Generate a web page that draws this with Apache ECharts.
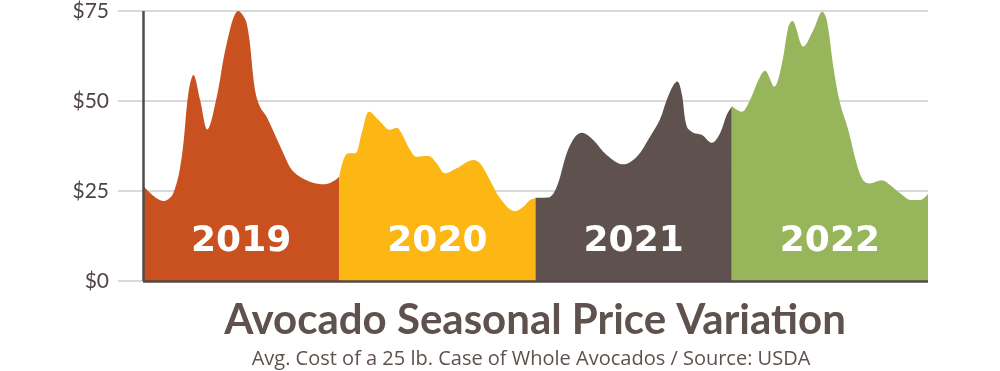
<!DOCTYPE html>
<html>
<head>
<meta charset="utf-8">
<script src="https://cdn.jsdelivr.net/npm/echarts@6/dist/echarts.min.js"></script>
<style>
html,body{margin:0;padding:0;background:#fff;}
#chart{width:1000px;height:371px;}
</style>
</head>
<body>
<div id="chart"></div>
<script>
// Months since Jan 2019 (x) and price in $ (y)
const years = ['2019', '2020', '2021', '2022'];
const colors = ['#C8511F', '#FDB714', '#5E514E', '#97B55A'];
const yTicks = [0, 25, 50, 75];

const x2019 = [0, 1.24, 1.85, 2.37, 2.77, 3.08, 3.49, 3.93, 4.51, 5.12, 5.83, 6.34, 6.85, 7.15, 7.56, 8.58, 9.19, 10.21, 11.13, 11.74, 12];
const y2019 = [26.5, 22.2, 24.4, 34.5, 52, 57.2, 50.3, 42.1, 51.2, 66, 75, 71.6, 53, 48.4, 45.6, 35.5, 30.4, 27.6, 26.9, 28, 29];

const x2020 = [12, 12.25, 12.55, 12.96, 13.37, 13.84, 14.49, 15.1, 15.51, 15.82, 16.33, 16.74, 17.45, 17.96, 18.47, 19.18, 20.2, 20.61, 21.22, 21.83, 22.75, 23.25, 23.66, 24];
const y2020 = [29, 33.6, 35.5, 35.5, 41, 47, 44.3, 42, 42.6, 41, 36.4, 34.5, 34.7, 32.7, 29.9, 31.3, 33.6, 32.7, 28, 23, 19.4, 20.6, 22.5, 23];

const x2021 = [24, 24.78, 25.3, 25.91, 26.42, 26.83, 27.53, 28.35, 29.37, 30.19, 31, 31.62, 32.02, 32.43, 32.67, 32.94, 33.25, 33.65, 34.16, 34.77, 35.28, 35.69, 36];
const y2021 = [23.1, 23.2, 26.2, 35.5, 40.1, 41.2, 39.2, 35, 32.4, 34.5, 40.1, 45, 50.3, 54.4, 55.4, 52.1, 42.9, 41.2, 40.6, 38.4, 41, 46.1, 48.4];

const x2022 = [36, 36.6, 37.12, 37.63, 38.03, 38.6, 39.06, 39.46, 39.7, 40.38, 40.99, 41.54, 41.81, 42.21, 42.62, 43.13, 43.63, 44.03, 44.44, 45.17, 45.68, 46.29, 47, 47.51, 48];
const y2022 = [48.6, 47, 50.3, 55.8, 58.4, 54, 60.2, 70.6, 72.2, 65.1, 69.7, 74.8, 72.5, 59.5, 49.4, 41.9, 32.7, 28, 27.1, 28, 26.7, 24.4, 22.5, 22.5, 24.2];

const xs = [x2019, x2020, x2021, x2022];
const ys = [y2019, y2020, y2021, y2022];
const labelY = 10.8;

const chart = echarts.init(document.getElementById('chart'), null, {renderer: 'canvas'});

const series = years.map((yr, i) => ({
  type: 'line',
  name: yr,
  data: xs[i].map((x, k) => [x, ys[i][k]]),
  smooth: 0.35,
  showSymbol: false,
  symbol: 'none',
  lineStyle: {width: 0, color: colors[i]},
  itemStyle: {color: colors[i]},
  areaStyle: {color: colors[i], opacity: 1, origin: 'start'},
  silent: true,
  z: 2,
  markPoint: {
    silent: true,
    symbol: 'circle',
    symbolSize: 1,
    itemStyle: {color: 'rgba(0,0,0,0)'},
    label: {
      show: true,
      position: 'inside',
      formatter: yr,
      color: '#ffffff',
      fontFamily: 'DejaVu Sans',
      fontWeight: 'bold',
      fontSize: 36
    },
    data: [{coord: [(xs[i][0] + xs[i][xs[i].length - 1]) / 2, labelY]}]
  }
}));

// axis lines (dark) drawn over the areas
series.push({
  type: 'line',
  data: [],
  silent: true,
  z: 5,
  markLine: {
    silent: true,
    symbol: 'none',
    label: {show: false},
    lineStyle: {color: '#54494A', width: 2.5, type: 'solid'},
    data: [
      [{coord: [0, 0]}, {coord: [0, 75]}],
      [{coord: [0, 0]}, {coord: [48, 0]}]
    ]
  }
});

chart.setOption({
  animation: false,
  grid: {left: 118, right: 72, top: 11, bottom: 90, containLabel: false},
  xAxis: {
    type: 'value',
    min: -1.53,
    max: 48,
    show: false
  },
  yAxis: {
    type: 'value',
    min: 0,
    max: 75,
    interval: 25,
    axisLine: {show: false},
    axisTick: {show: false},
    splitLine: {show: true, lineStyle: {color: '#D9D9D9', width: 2}},
    axisLabel: {
      margin: 9,
      color: '#4F4445',
      fontFamily: 'Lato',
      fontSize: 21,
      formatter: v => '$' + v
    }
  },
  series: series,
  graphic: [
    {
      type: 'text',
      x: 535,
      y: 320,
      style: {
        text: 'Avocado Seasonal Price Variation',
        fill: '#5E514E',
        font: 'bold 42px Lato',
        textAlign: 'center',
        textVerticalAlign: 'middle'
      }
    },
    {
      type: 'text',
      x: 531,
      y: 359,
      style: {
        text: 'Avg. Cost of a 25 lb. Case of Whole Avocados / Source: USDA',
        fill: '#5E514E',
        font: '20px "Open Sans"',
        textAlign: 'center',
        textVerticalAlign: 'middle'
      }
    }
  ]
});
</script>
</body>
</html>
